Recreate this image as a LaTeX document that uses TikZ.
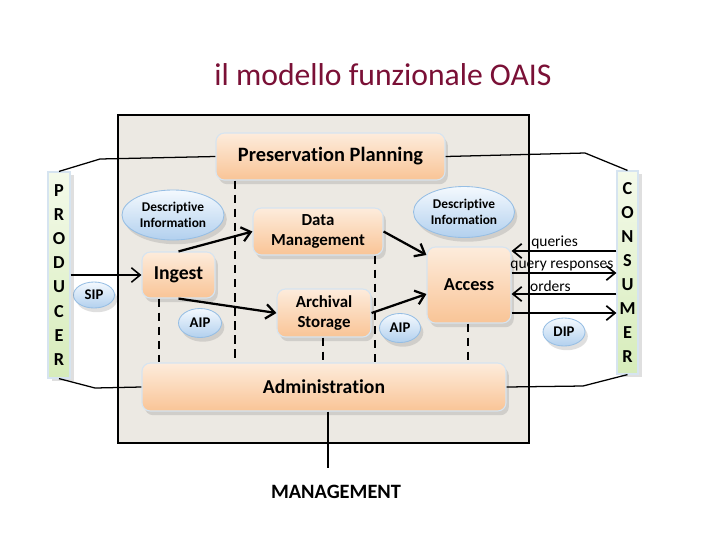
\documentclass[tikz,border=0pt]{standalone}
\usepackage{fontspec}
\setmainfont[Ligatures=NoCommon]{Carlito}
\usetikzlibrary{arrows.meta,shadows,shapes.geometric}
\definecolor{titlered}{RGB}{122,16,54}
\definecolor{panelfill}{RGB}{236,233,227}
\definecolor{peachtop}{RGB}{253,236,220}
\definecolor{peachbot}{RGB}{249,196,150}
\definecolor{boxrim}{RGB}{214,228,240}
\definecolor{skytop}{RGB}{244,249,254}
\definecolor{skybot}{RGB}{178,208,238}
\definecolor{skyrim}{RGB}{150,190,228}
\definecolor{leaftop}{RGB}{244,250,234}
\definecolor{leafbot}{RGB}{214,236,186}
\tikzset{
  func/.style={draw=boxrim, line width=0.8pt, rounded corners=6pt, top color=peachtop, bottom color=peachbot, align=center, inner sep=0pt, font=\bfseries\fontsize{14}{15}\selectfont, drop shadow={opacity=0.25, shadow xshift=2pt, shadow yshift=-3pt}},
  info/.style={ellipse, draw=skyrim, line width=0.6pt, top color=skytop, bottom color=skybot, align=center, inner sep=0pt, font=\bfseries\fontsize{9.5}{11}\selectfont, drop shadow={opacity=0.25, shadow xshift=2pt, shadow yshift=-3pt}},
  party/.style={draw=boxrim, line width=0.8pt, top color=leaftop, bottom color=leafbot, align=center, inner sep=0pt, font=\bfseries\fontsize{13}{17.1}\selectfont, drop shadow={opacity=0.25, shadow xshift=3pt, shadow yshift=-2pt}},
  flow/.style={-{Straight Barb[length=2.2mm,width=3.6mm]}, line width=1.6pt},
  talk/.style={line width=1.2pt},
  link/.style={line width=0.9pt},
  phase/.style={line width=1.6pt, dash pattern=on 6pt off 4pt},
  lbl/.style={font=\fontsize{11}{12}\selectfont, inner sep=1pt}
}
\begin{document}
\begin{tikzpicture}[x=0.025cm,y=-0.025cm]
\useasboundingbox[fill=white] (0,0) rectangle (720,540);
\node[text=titlered, font=\fontsize{22.5}{25}\selectfont] (title) at (383,75) {il modello funzionale OAIS};
\draw[fill=panelfill, line width=1.1pt] (118,115) rectangle (529,443);
\node[func, minimum width=5.725cm, minimum height=1.175cm, font=\bfseries\fontsize{14.5}{16}\selectfont] (plan) at (330.5,156.5) {Preservation Planning};
\node[func, minimum width=3.25cm, minimum height=1.175cm, font=\bfseries\fontsize{12}{14}\selectfont] (datamgmt) at (318,231.5) {Data\\Management};
\node[func, minimum width=1.825cm, minimum height=1.15cm] (ingest) at (178.5,275) {Ingest};
\node[func, minimum width=2.35cm, minimum height=1.2cm, font=\bfseries\fontsize{12}{14}\selectfont] (storage) at (324,313) {Archival\\Storage};
\node[func, minimum width=2.1cm, minimum height=1.9cm, font=\bfseries\fontsize{13}{15}\selectfont] (access) at (469,285) {Access};
\node[func, minimum width=9.1cm, minimum height=1.2cm] (admin) at (324,387) {Administration};
\node[info, minimum width=2.55cm, minimum height=1.25cm] (descl) at (173,215) {Descriptive\\Information};
\node[info, minimum width=2.525cm, minimum height=1.275cm] (descr) at (464,212) {Descriptive\\Information};
\node[info, minimum width=1.025cm, minimum height=0.65cm, font=\bfseries\fontsize{10.5}{12}\selectfont] (sip) at (94,295) {SIP};
\node[info, minimum width=1.075cm, minimum height=0.725cm, font=\bfseries\fontsize{10.5}{12}\selectfont] (aipl) at (200,323) {AIP};
\node[info, minimum width=1.025cm, minimum height=0.725cm, font=\bfseries\fontsize{10.5}{12}\selectfont] (aipr) at (400,328) {AIP};
\node[info, minimum width=1.05cm, minimum height=0.7cm, font=\bfseries\fontsize{10.5}{12}\selectfont] (dip) at (564,332) {DIP};
\node[party, minimum width=0.55cm, minimum height=5.15cm] (producer) at (59,275) {P\\R\\O\\D\\U\\C\\E\\R};
\node[party, minimum width=0.525cm, minimum height=5.075cm] (consumer) at (627.5,272.5) {C\\O\\N\\S\\U\\M\\E\\R};
\node[font=\bfseries\fontsize{14.5}{16}\selectfont] (mgmt) at (336,492) {MANAGEMENT};
\coordinate (pbendtop) at (100,159);
\coordinate (cbendtop) at (585,153);
\coordinate (pbendbot) at (95,388);
\coordinate (cbendbot) at (583,386);
\coordinate (mgmtend) at (328,468);
\draw[link] (producer.north) -- (pbendtop) -- (plan.west);
\draw[link] (plan.east) -- (cbendtop) -- (consumer.north);
\draw[link] (producer.south) -- (pbendbot) -- (admin.west);
\draw[link] (admin.east) -- (cbendbot) -- (consumer.south);
\draw[link] (admin.south -| mgmtend) -- (mgmtend);
\draw[phase] (235,0 |- plan.south) -- (235,0 |- admin.north);
\draw[phase] (159,0 |- ingest.south) -- (159,0 |- admin.north);
\draw[phase] (323,0 |- storage.south) -- (323,0 |- admin.north);
\draw[phase] (375,0 |- datamgmt.south) -- (375,0 |- admin.north);
\draw[phase] (468,0 |- access.south) -- (468,0 |- admin.north);
\draw[flow, line width=1.1pt] (producer.east |- ingest.west) -- (ingest.west);
\draw[flow] (ingest.north) -- (datamgmt.west);
\draw[flow] (datamgmt.east) -- ([yshift=0.75cm]access.west);
\draw[flow] (ingest.south) -- (storage.west);
\draw[flow] (storage.east) -- ([yshift=-0.225cm]access.west);
\draw[flow, talk] ([yshift=0.85cm]access.east -| consumer.west) -- node[lbl, above, pos=0.59] {queries} ([yshift=0.85cm]access.east);
\draw[flow, talk] ([yshift=0.3cm]access.east) -- node[lbl, above, pos=0.48] {query responses} ([yshift=0.3cm]access.east -| consumer.west);
\draw[flow, talk] ([yshift=-0.225cm]access.east -| consumer.west) -- node[lbl, above, pos=0.63] {orders} ([yshift=-0.225cm]access.east);
\draw[flow, talk] ([yshift=-0.7cm]access.east) -- ([yshift=-0.7cm]access.east -| consumer.west);
\end{tikzpicture}
\end{document}
